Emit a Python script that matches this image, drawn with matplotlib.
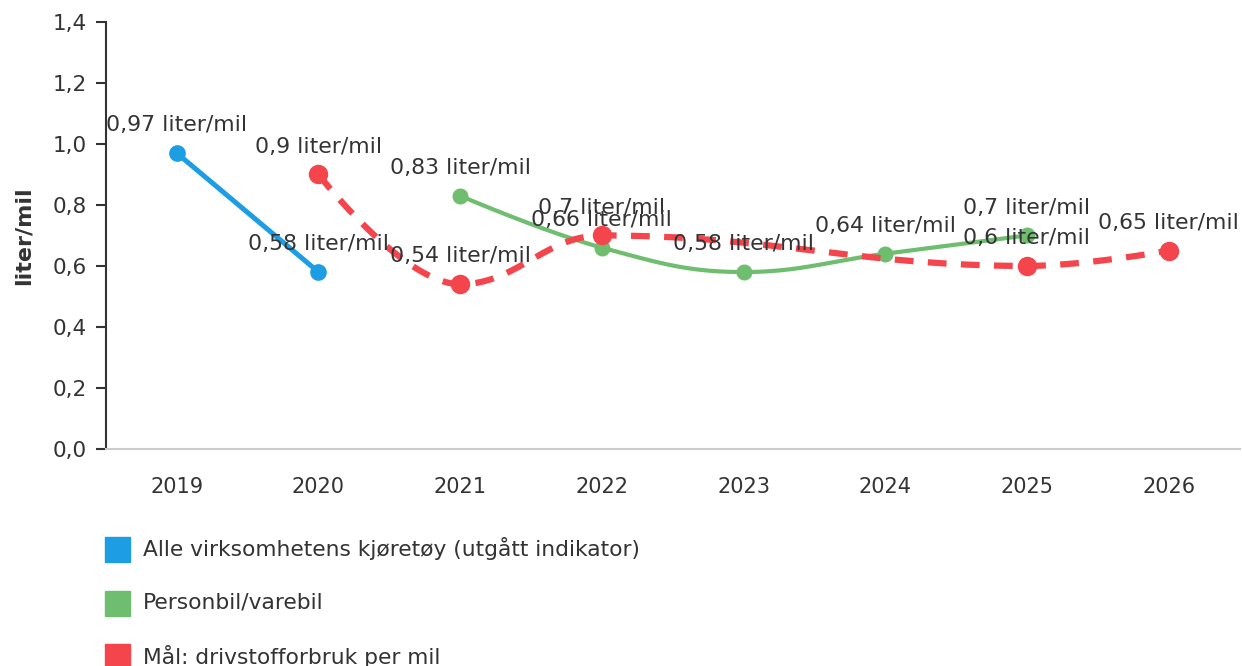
import numpy as np
import matplotlib.pyplot as plt
from matplotlib.patches import Rectangle

years = ['2019', '2020', '2021', '2022', '2023', '2024', '2025', '2026']
alle = [0.97, 0.58, None, None, None, None, None, None]
personbil = [None, None, 0.83, 0.66, 0.58, 0.64, 0.7, None]
maal = [None, 0.9, 0.54, 0.7, None, None, 0.6, 0.65]

names = ['Alle virksomhetens kjøretøy (utgått indikator)', 'Personbil/varebil',
         'Mål: drivstofforbruk per mil']
colors = ['#1d9de4', '#6fbd6f', '#f4454d']
yticks = [0.0, 0.2, 0.4, 0.6, 0.8, 1.0, 1.2, 1.4]

plt.rcParams['font.family'] = 'DejaVu Sans'
TXT = '#333333'


def spline(xs, ys, smoothing=1.5, n=40):
    # highcharts-like spline, nulls connected
    d = smoothing + 1
    conts = []
    for i in range(len(xs)):
        x, y = xs[i], ys[i]
        if 0 < i < len(xs) - 1:
            lx, ly, nx, ny = xs[i-1], ys[i-1], xs[i+1], ys[i+1]
            lcx, lcy = (smoothing*x + lx)/d, (smoothing*y + ly)/d
            rcx, rcy = (smoothing*x + nx)/d, (smoothing*y + ny)/d
            corr = (rcy - lcy)*(rcx - x)/(rcx - lcx) + y - rcy
            lcy += corr
            rcy += corr
            if lcy > ly and lcy > y:
                lcy = max(ly, y); rcy = 2*y - lcy
            elif lcy < ly and lcy < y:
                lcy = min(ly, y); rcy = 2*y - lcy
            if rcy > ny and rcy > y:
                rcy = max(ny, y); lcy = 2*y - rcy
            elif rcy < ny and rcy < y:
                rcy = min(ny, y); lcy = 2*y - rcy
            conts.append(((lcx, lcy), (rcx, rcy)))
        else:
            conts.append(((x, y), (x, y)))
    px, py = [xs[0]], [ys[0]]
    t = np.linspace(0, 1, n)[1:]
    for i in range(1, len(xs)):
        p0 = (xs[i-1], ys[i-1]); c1 = conts[i-1][1]; c2 = conts[i][0]; p3 = (xs[i], ys[i])
        for k in range(2):
            v = ((1-t)**3*p0[k] + 3*(1-t)**2*t*c1[k] + 3*(1-t)*t**2*c2[k] + t**3*p3[k])
            (px if k == 0 else py).extend(v)
    return px, py


fig = plt.figure(figsize=(12.42, 6.66), dpi=100)
ax = fig.add_axes([0.0853, 0.326, 0.9127, 0.641])

styles = [dict(lw=3.6, ms=11, dashes=None),
          dict(lw=3.0, ms=10.5, dashes=None),
          dict(lw=4.5, ms=13, dashes=(3.0, 2.3))]

for z, (vals, col, st) in enumerate(zip([alle, personbil, maal], colors, styles)):
    xs = [i for i, v in enumerate(vals) if v is not None]
    ys = [v for v in vals if v is not None]
    sx, sy = spline(xs, ys)
    kw = dict(color=col, lw=st['lw'], zorder=3+z, solid_capstyle='round')
    if st['dashes']:
        kw['dashes'] = st['dashes']
        kw['dash_capstyle'] = 'butt'
    ax.plot(sx, sy, **kw)
    ax.plot(xs, ys, 'o', color=col, ms=st['ms'], zorder=3+z, mec=col)
    for x, y in zip(xs, ys):
        ax.annotate(f'{y:g}'.replace('.', ',') + ' liter/mil', (x, y),
                    xytext=(0, 20), textcoords='offset points', ha='center',
                    va='center', fontsize=15.8, color=TXT, zorder=10)

ax.set_xlim(-0.5, 7.5)
ax.set_ylim(0, 1.4)
ax.set_xticks(range(len(years)))
ax.set_xticklabels(years)
ax.set_yticks(yticks)
ax.set_yticklabels([f'{v:.1f}'.replace('.', ',') for v in yticks])
ax.tick_params(axis='x', length=0, pad=20, labelsize=15, labelcolor=TXT)
ax.tick_params(axis='y', length=7, width=1.5, pad=7, labelsize=15.5,
               labelcolor=TXT, color=TXT)
for s in ['top', 'right']:
    ax.spines[s].set_visible(False)
ax.spines['left'].set_color(TXT)
ax.spines['left'].set_linewidth(1.5)
ax.spines['bottom'].set_color('#cccccc')
ax.spines['bottom'].set_linewidth(1.5)
ax.set_ylabel('liter/mil', fontsize=16, fontweight='bold', color=TXT)
ax.yaxis.set_label_coords(-0.064, 0.5)

# legend below
row_y = [0.1757, 0.0946, 0.0150]
for name, col, y in zip(names, colors, row_y):
    fig.add_artist(Rectangle((0.0845, y - 0.0188), 0.0202, 0.0375,
                             transform=fig.transFigure, color=col))
    fig.text(0.115, y, name, fontsize=15.7, color=TXT, va='center')

fig.savefig('out.png', dpi=100)
